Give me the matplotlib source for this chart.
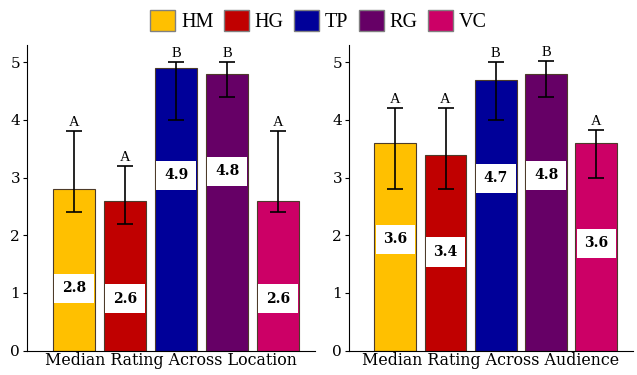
import matplotlib.pyplot as plt
from matplotlib.patches import Patch

groups = ["HM", "HG", "TP", "RG", "VC"]
colors = ["#FFC000", "#C00000", "#000099", "#660066", "#CC0066"]

# Median Rating Across Location
loc_median = [2.8, 2.6, 4.9, 4.8, 2.6]
loc_low = [2.4, 2.2, 4.0, 4.4, 2.4]
loc_high = [3.8, 3.2, 5.0, 5.0, 3.8]
loc_letters = ["A", "A", "B", "B", "A"]

# Median Rating Across Audience
aud_median = [3.6, 3.4, 4.7, 4.8, 3.6]
aud_low = [2.8, 2.8, 4.0, 4.4, 3.0]
aud_high = [4.2, 4.2, 5.0, 5.02, 3.82]
aud_letters = ["A", "A", "B", "B", "A"]

# where the white value boxes sit (y in data units)
loc_label_y = [1.08, 0.9, 3.04, 3.11, 0.9]
aud_label_y = [1.93, 1.71, 2.99, 3.04, 1.86]

fig = plt.figure(figsize=(6.37, 3.75), dpi=100)
ax1 = fig.add_axes([0.0424, 0.065, 0.452, 0.815])
ax2 = fig.add_axes([0.548, 0.065, 0.445, 0.815])


def panel(ax, med, low, high, letters, label_y, title):
    x = list(range(len(groups)))
    ax.bar(x, med, width=0.83, color=colors, edgecolor="#4d3b2a", linewidth=0.8, zorder=2)
    yerr = [[m - l for m, l in zip(med, low)], [h - m for m, h in zip(med, high)]]
    ax.errorbar(x, med, yerr=yerr, fmt="none", ecolor="black", elinewidth=1.2,
                capsize=5.5, capthick=1.2, zorder=3)
    for xi, h, let in zip(x, high, letters):
        ax.text(xi, h + 0.04, let, ha="center", va="bottom", fontsize=10.5,
                family="Liberation Serif", zorder=4)
    for xi, m, ly in zip(x, med, label_y):
        ax.text(xi, ly, f"{m:.1f}", ha="center", va="center", fontsize=10,
                fontweight="bold", family="DejaVu Serif", zorder=4,
                bbox=dict(boxstyle="square,pad=0.55", facecolor="white",
                          edgecolor="none"))
    ax.set_xlim(-0.92, 4.72)
    ax.set_ylim(0, 5.3)
    ax.set_yticks([0, 1, 2, 3, 4, 5])
    ax.set_xticks([])
    ax.spines["top"].set_visible(False)
    ax.spines["right"].set_visible(False)
    ax.tick_params(axis="y", labelsize=11, length=3, pad=2)
    for t in ax.get_yticklabels():
        t.set_family("DejaVu Serif")
    ax.set_xlabel(title, fontsize=11.4, family="DejaVu Serif", labelpad=1)


panel(ax1, loc_median, loc_low, loc_high, loc_letters, loc_label_y,
      "Median Rating Across Location")
panel(ax2, aud_median, aud_low, aud_high, aud_letters, aud_label_y,
      "Median Rating Across Audience")

handles = [Patch(facecolor=c, edgecolor="#808080", linewidth=1) for c in colors]
fig.legend(handles, groups, loc="center", bbox_to_anchor=(0.5, 0.944), ncol=5,
           frameon=False, prop={"family": "Liberation Serif", "size": 14.5},
           handlelength=1.25, handleheight=1.25, handletextpad=0.3,
           columnspacing=0.5, borderpad=0.1)

plt.savefig("out.png", dpi=100)
